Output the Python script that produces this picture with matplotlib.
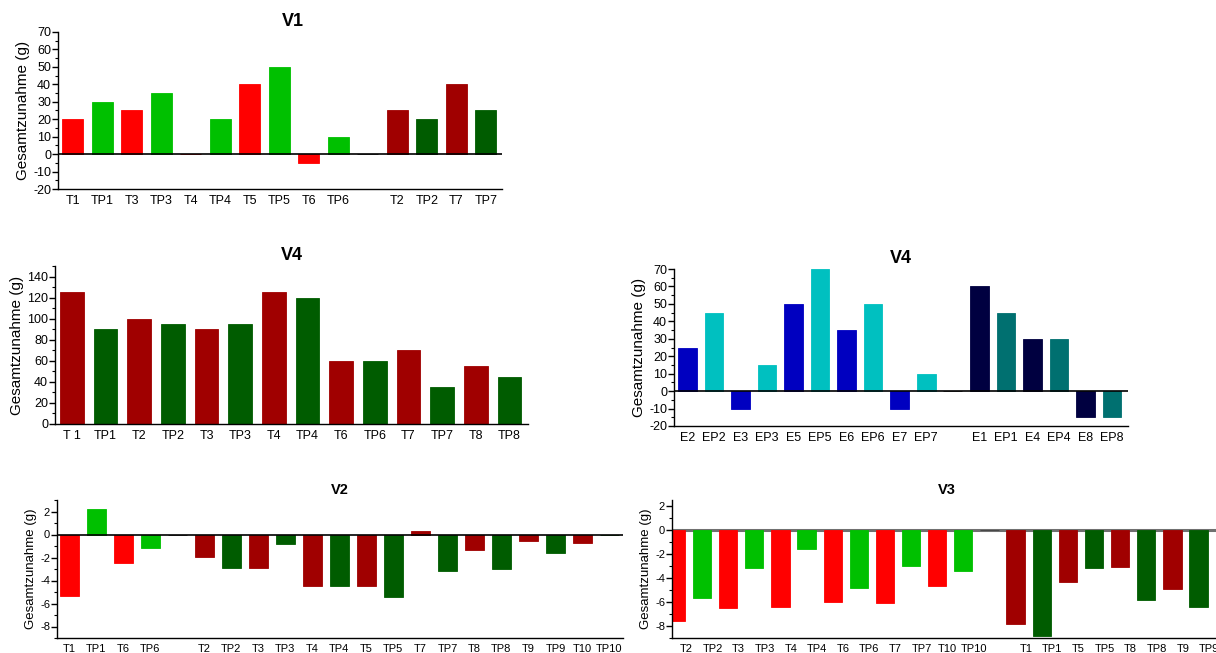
import matplotlib
matplotlib.use('Agg')
import matplotlib.pyplot as plt
import numpy as np
from matplotlib.ticker import MultipleLocator

plt.rcParams['font.family'] = ['Liberation Sans', 'DejaVu Sans']
plt.rcParams['axes.unicode_minus'] = False

W, H = 1216, 653

# Gesamtzunahme je Tier (g)
v1_labels = ['T1', 'TP1', 'T3', 'TP3', 'T4', 'TP4', 'T5', 'TP5', 'T6', 'TP6', '',
             'T2', 'TP2', 'T7', 'TP7']
v1_values = [20, 30, 25, 35, 0, 20, 40, 50, -5, 10, 0, 25, 20, 40, 25]

v4a_labels = ['T 1', 'TP1', 'T2', 'TP2', 'T3', 'TP3', 'T4', 'TP4', 'T6', 'TP6',
              'T7', 'TP7', 'T8', 'TP8']
v4a_values = [125, 90, 100, 95, 90, 95, 125, 120, 60, 60, 70, 35, 55, 45]

v4b_labels = ['E2', 'EP2', 'E3', 'EP3', 'E5', 'EP5', 'E6', 'EP6', 'E7', 'EP7', '',
              'E1', 'EP1', 'E4', 'EP4', 'E8', 'EP8']
v4b_values = [25, 45, -10, 15, 50, 70, 35, 50, -10, 10, 0, 60, 45, 30, 30, -15, -15]

v2_labels = ['T1', 'TP1', 'T6', 'TP6', '', 'T2', 'TP2', 'T3', 'TP3', 'T4', 'TP4',
             'T5', 'TP5', 'T7', 'TP7', 'T8', 'TP8', 'T9', 'TP9', 'T10', 'TP10']
v2_values = [-5.35, 2.2, -2.45, -1.15, 0, -1.95, -2.95, -2.95, -0.85, -4.45, -4.45,
             -4.45, -5.45, 0.3, -3.2, -1.35, -3.0, -0.55, -1.65, -0.75, 0]

v3_labels = ['T2', 'TP2', 'T3', 'TP3', 'T4', 'TP4', 'T6', 'TP6', 'T7', 'TP7', 'T10',
             'TP10', '', 'T1', 'TP1', 'T5', 'TP5', 'T8', 'TP8', 'T9', 'TP9']
v3_values = [-7.55, -5.7, -6.5, -3.2, -6.45, -1.6, -6.0, -4.8, -6.1, -3.0, -4.7,
             -3.4, 0, -7.8, -8.8, -4.3, -3.2, -3.1, -5.8, -4.9, -6.45]

RED, GREEN = '#FF0000', '#00C000'
DRED, DGREEN = '#A00000', '#005C00'
BLUE, CYAN = '#0000C0', '#00C0C0'
NAVY, TEAL = '#000040', '#007070'


def group_colors(labels, first, second, gap_color='#404040'):
    """Farben nach Gruppe: vor der Lücke 'first', danach 'second'; P-Tiere grün/hell."""
    cols, grp = [], first
    for lab in labels:
        if lab == '':
            cols.append(gap_color)
            grp = second
            continue
        cols.append(grp[1] if 'P' in lab else grp[0])
    return cols


def px_axes(fig, left, top, right, bottom):
    return fig.add_axes([left / W, 1 - bottom / H, (right - left) / W, (bottom - top) / H])


def style_axes(ax, title, ylim, major, minor, tick_fs, label_fs, title_fs, title_x=0.5):
    for s in ('top', 'right'):
        ax.spines[s].set_visible(False)
    ax.spines['left'].set_linewidth(1.0)
    ax.spines['bottom'].set_linewidth(1.0)
    ax.set_ylim(*ylim)
    ax.yaxis.set_major_locator(MultipleLocator(major))
    ax.yaxis.set_minor_locator(MultipleLocator(minor))
    ax.tick_params(axis='y', which='major', length=4, width=1, labelsize=tick_fs, pad=1)
    ax.tick_params(axis='y', which='minor', length=2.5, width=0.8)
    ax.tick_params(axis='x', length=0, labelsize=tick_fs, pad=4)
    ax.set_ylabel('Gesamtzunahme (g)', fontsize=label_fs, labelpad=2)
    ax.set_title(title, fontsize=title_fs, fontweight='bold', pad=4, x=title_x)


def draw_bars(ax, labels, values, colors, xlim, label_shift=0.0):
    x = np.arange(len(labels))
    ax.bar(x, values, width=0.7, color=colors, edgecolor=colors, linewidth=0.6)
    ax.set_xticks(x + label_shift)
    ax.set_xticklabels(labels)
    ax.set_xlim(*xlim)


fig = plt.figure(figsize=(W / 100, H / 100), dpi=100)

# V1
ax = px_axes(fig, 58, 32, 502, 189)
draw_bars(ax, v1_labels, v1_values, group_colors(v1_labels, (RED, GREEN), (DRED, DGREEN)),
          (-0.5, 14.55))
ax.axhline(0, color='black', lw=1.2, zorder=3)
style_axes(ax, 'V1', (-20, 70), 10, 5, 9, 11, 13, title_x=0.53)

# V4 (T/TP)
ax = px_axes(fig, 55, 266, 528, 424)
draw_bars(ax, v4a_labels, v4a_values, group_colors(v4a_labels, (DRED, DGREEN), (DRED, DGREEN)),
          (-0.5, 13.55))
style_axes(ax, 'V4', (0, 150), 20, 10, 9, 11, 13)

# V4 (E/EP)
ax = px_axes(fig, 674, 269, 1128, 426)
draw_bars(ax, v4b_labels, v4b_values, group_colors(v4b_labels, (BLUE, CYAN), (NAVY, TEAL)),
          (-0.5, 16.6))
ax.axhline(0, color='black', lw=1.2, zorder=3)
style_axes(ax, 'V4', (-20, 70), 10, 5, 9, 11, 13)

# V2
ax = px_axes(fig, 57, 500, 623, 638)
draw_bars(ax, v2_labels, v2_values, group_colors(v2_labels, (RED, GREEN), (DRED, DGREEN)),
          (-0.45, 20.5))
ax.axhline(0, color='black', lw=1.2, zorder=3)
style_axes(ax, 'V2', (-9, 3), 2, 1, 8, 9.5, 10.5)

# V3 (rechter Rand läuft über die Abbildung hinaus)
ax = px_axes(fig, 672, 500, 1222, 638)
draw_bars(ax, v3_labels, v3_values, group_colors(v3_labels, (RED, GREEN), (DRED, DGREEN)),
          (-0.15, 20.9), label_shift=0.4)
ax.axhline(0, color='#707070', lw=2.2, zorder=0.5)
style_axes(ax, 'V3', (-9, 2.5), 2, 1, 8, 9.5, 10.5)

fig.savefig('out.png', dpi=100)
